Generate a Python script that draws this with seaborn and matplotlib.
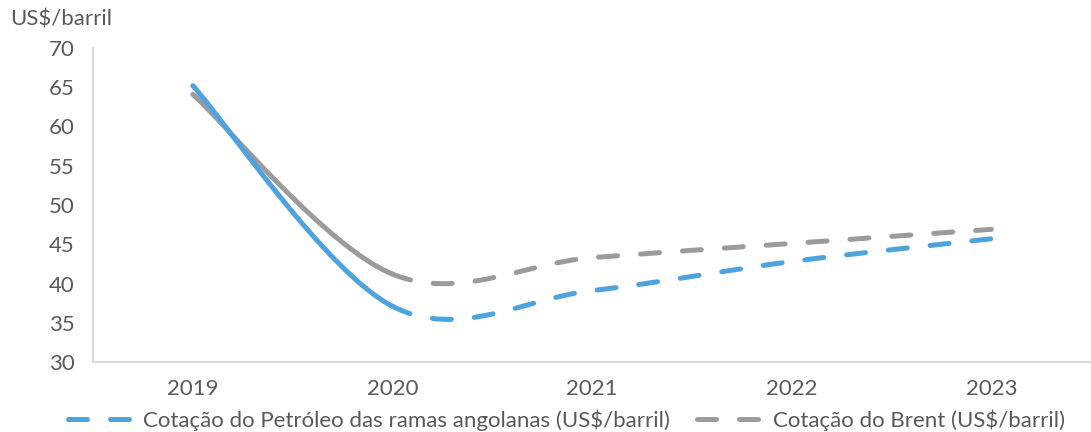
import matplotlib
matplotlib.use("Agg")
import matplotlib.pyplot as plt
from matplotlib.path import Path
from matplotlib.patches import PathPatch
from matplotlib.lines import Line2D
import seaborn as sns
import numpy as np

# data
years = [2019, 2020, 2021, 2022, 2023]
angola = [65.2, 37.1, 39.1, 42.8, 45.7]
brent = [64.1, 41.2, 43.3, 45.1, 46.9]
labels = ["Cotação do Petróleo das ramas angolanas (US$/barril)",
          "Cotação do Brent (US$/barril)"]

blue = "#4DA3DD"
grey = "#9B9B9B"
text_col = "#595959"

sns.set_theme(style="white")
plt.rcParams["font.family"] = ["Lato", "DejaVu Sans"]


def smooth_path(xs, ys, start, stop):
    # excel style smoothed line: cubic bezier through the points
    x = np.asarray(xs, float)
    y = np.asarray(ys, float)
    n = len(x)
    tx = np.zeros(n)
    ty = np.zeros(n)
    for i in range(n):
        a = max(i - 1, 0)
        b = min(i + 1, n - 1)
        tx[i] = (x[b] - x[a]) / 6
        ty[i] = (y[b] - y[a]) / 6
    verts = [(x[start], y[start])]
    codes = [Path.MOVETO]
    for i in range(start, stop):
        verts += [(x[i] + tx[i], y[i] + ty[i]),
                  (x[i + 1] - tx[i + 1], y[i + 1] - ty[i + 1]),
                  (x[i + 1], y[i + 1])]
        codes += [Path.CURVE4] * 3
    return Path(verts, codes)


fig = plt.figure(figsize=(10.91, 4.32), dpi=100)
ax = fig.add_axes([0.0852, 0.162, 0.915, 0.727])

lw = 3.6
dash = (0, (3.8, 4.6))
for vals, col in [(brent, grey), (angola, blue)]:
    ax.add_patch(PathPatch(smooth_path(years, vals, 0, 1), fill=False,
                           edgecolor=col, lw=lw, capstyle="round", joinstyle="round"))
    ax.add_patch(PathPatch(smooth_path(years, vals, 1, len(years) - 1), fill=False,
                           edgecolor=col, lw=lw, linestyle=dash,
                           capstyle="round", joinstyle="round"))

ax.set_xlim(2018.5, 2023.5)
ax.set_ylim(30, 70)
ax.set_xticks(years)
ax.set_xticklabels([str(y) for y in years])
ax.set_yticks(range(30, 71, 5))
ax.tick_params(axis="both", length=0, labelsize=16, colors=text_col)
ax.tick_params(axis="y", pad=13)
ax.tick_params(axis="x", pad=12)

sns.despine(ax=ax, top=True, right=True)
for s in ["left", "bottom"]:
    ax.spines[s].set_color("#D9D9D9")
    ax.spines[s].set_linewidth(1.5)

fig.text(0.009, 0.955, "US$/barril", fontsize=16, color=text_col,
         ha="left", va="center")

handles = [Line2D([], [], color=blue, lw=lw, linestyle=dash, dash_capstyle="round"),
           Line2D([], [], color=grey, lw=lw, linestyle=dash, dash_capstyle="round")]
leg = fig.legend(handles, labels, loc="center", bbox_to_anchor=(0.519, 0.028),
                 ncol=2, frameon=False, fontsize=16, handlelength=3.0,
                 handletextpad=0.4, columnspacing=1.2, borderaxespad=0)
for t in leg.get_texts():
    t.set_color(text_col)

fig.savefig("out.png", dpi=100)
